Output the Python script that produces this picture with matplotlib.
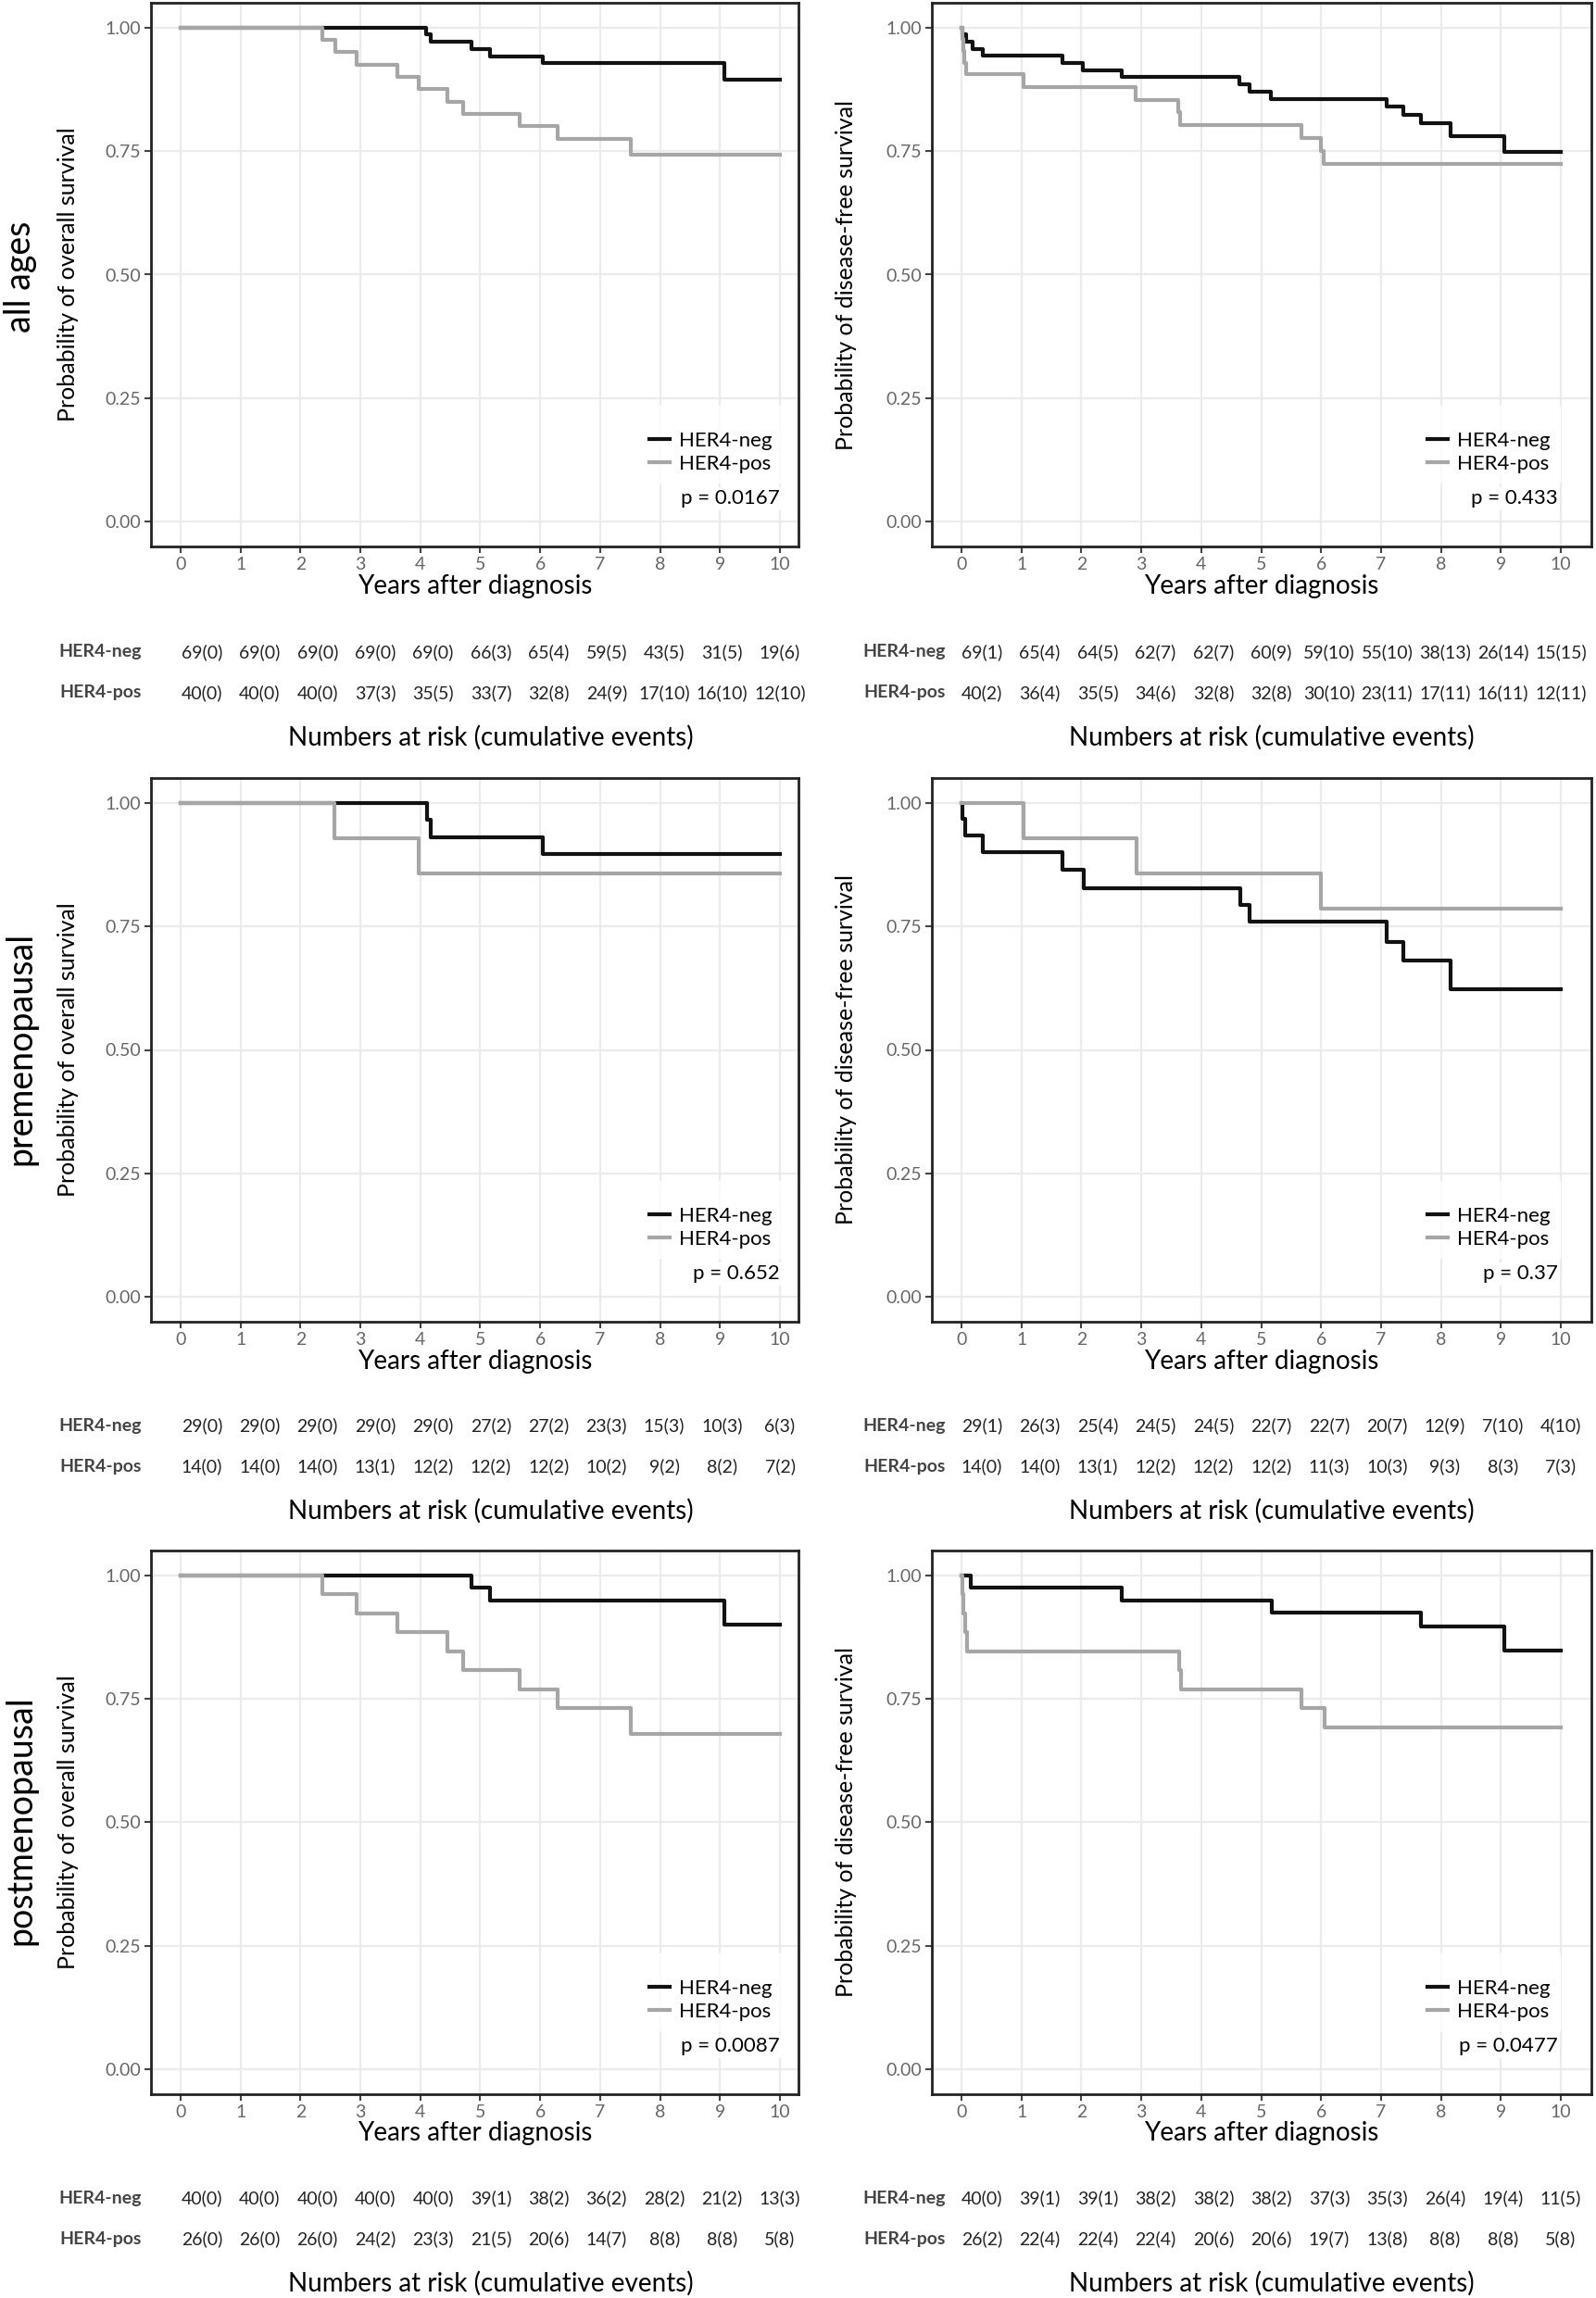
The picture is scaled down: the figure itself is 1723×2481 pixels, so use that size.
import matplotlib
matplotlib.use("Agg")
import matplotlib.pyplot as plt

plt.rcParams['font.family'] = ['Lato', 'DejaVu Sans']

# ---- survival curves (time in years, survival probability) ----
os_all_neg_t = [0, 4.10, 4.18, 4.85, 5.17, 6.04, 9.08, 10]
os_all_neg_s = [1, 0.986, 0.971, 0.957, 0.942, 0.928, 0.895, 0.895]
os_all_pos_t = [0, 2.37, 2.58, 2.93, 3.62, 3.98, 4.45, 4.71, 5.65, 6.29, 7.51, 10]
os_all_pos_s = [1, 0.975, 0.95, 0.925, 0.90, 0.875, 0.85, 0.825, 0.80, 0.775, 0.743, 0.743]

dfs_all_neg_t = [0, 0.01, 0.07, 0.18, 0.35, 1.69, 2.03, 2.68, 4.63, 4.80, 5.16, 7.09, 7.37, 7.66, 8.16, 9.05, 10]
dfs_all_neg_s = [1, 0.986, 0.971, 0.957, 0.943, 0.929, 0.914, 0.90, 0.886, 0.871, 0.856, 0.84, 0.823, 0.806, 0.781, 0.749, 0.749]
dfs_all_pos_t = [0, 0.01, 0.03, 0.05, 0.08, 1.04, 2.91, 3.62, 3.65, 5.67, 5.99, 6.04, 10]
dfs_all_pos_s = [1, 0.976, 0.952, 0.929, 0.905, 0.879, 0.853, 0.828, 0.802, 0.776, 0.75, 0.724, 0.724]

os_pre_neg_t = [0, 4.11, 4.18, 6.04, 10]
os_pre_neg_s = [1, 0.966, 0.931, 0.897, 0.897]
os_pre_pos_t = [0, 2.57, 3.98, 10]
os_pre_pos_s = [1, 0.929, 0.857, 0.857]

dfs_pre_neg_t = [0, 0.01, 0.06, 0.36, 1.69, 2.04, 4.65, 4.80, 7.09, 7.38, 8.16, 10]
dfs_pre_neg_s = [1, 0.967, 0.933, 0.90, 0.864, 0.827, 0.794, 0.759, 0.719, 0.68, 0.622, 0.622]
dfs_pre_pos_t = [0, 1.04, 2.92, 5.99, 10]
dfs_pre_pos_s = [1, 0.929, 0.857, 0.786, 0.786]

os_post_neg_t = [0, 4.85, 5.17, 9.08, 10]
os_post_neg_s = [1, 0.975, 0.949, 0.90, 0.90]
os_post_pos_t = [0, 2.37, 2.93, 3.62, 4.45, 4.71, 5.65, 6.29, 7.51, 10]
os_post_pos_s = [1, 0.962, 0.923, 0.885, 0.846, 0.808, 0.769, 0.731, 0.679, 0.679]

dfs_post_neg_t = [0, 0.16, 2.68, 5.18, 7.67, 9.05, 10]
dfs_post_neg_s = [1, 0.975, 0.949, 0.924, 0.897, 0.847, 0.847]
dfs_post_pos_t = [0, 0.01, 0.03, 0.06, 0.09, 3.63, 3.66, 5.67, 6.06, 10]
dfs_post_pos_s = [1, 0.962, 0.923, 0.885, 0.846, 0.808, 0.769, 0.731, 0.692, 0.692]

# ---- numbers at risk (cumulative events) at years 0..10 ----
risk_os_all_neg = ["69(0)", "69(0)", "69(0)", "69(0)", "69(0)", "66(3)", "65(4)", "59(5)", "43(5)", "31(5)", "19(6)"]
risk_os_all_pos = ["40(0)", "40(0)", "40(0)", "37(3)", "35(5)", "33(7)", "32(8)", "24(9)", "17(10)", "16(10)", "12(10)"]
risk_dfs_all_neg = ["69(1)", "65(4)", "64(5)", "62(7)", "62(7)", "60(9)", "59(10)", "55(10)", "38(13)", "26(14)", "15(15)"]
risk_dfs_all_pos = ["40(2)", "36(4)", "35(5)", "34(6)", "32(8)", "32(8)", "30(10)", "23(11)", "17(11)", "16(11)", "12(11)"]
risk_os_pre_neg = ["29(0)", "29(0)", "29(0)", "29(0)", "29(0)", "27(2)", "27(2)", "23(3)", "15(3)", "10(3)", "6(3)"]
risk_os_pre_pos = ["14(0)", "14(0)", "14(0)", "13(1)", "12(2)", "12(2)", "12(2)", "10(2)", "9(2)", "8(2)", "7(2)"]
risk_dfs_pre_neg = ["29(1)", "26(3)", "25(4)", "24(5)", "24(5)", "22(7)", "22(7)", "20(7)", "12(9)", "7(10)", "4(10)"]
risk_dfs_pre_pos = ["14(0)", "14(0)", "13(1)", "12(2)", "12(2)", "12(2)", "11(3)", "10(3)", "9(3)", "8(3)", "7(3)"]
risk_os_post_neg = ["40(0)", "40(0)", "40(0)", "40(0)", "40(0)", "39(1)", "38(2)", "36(2)", "28(2)", "21(2)", "13(3)"]
risk_os_post_pos = ["26(0)", "26(0)", "26(0)", "24(2)", "23(3)", "21(5)", "20(6)", "14(7)", "8(8)", "8(8)", "5(8)"]
risk_dfs_post_neg = ["40(0)", "39(1)", "39(1)", "38(2)", "38(2)", "38(2)", "37(3)", "35(3)", "26(4)", "19(4)", "11(5)"]
risk_dfs_post_pos = ["26(2)", "22(4)", "22(4)", "22(4)", "20(6)", "20(6)", "19(7)", "13(8)", "8(8)", "8(8)", "5(8)"]

years = list(range(11))
row_names = ["all ages", "premenopausal", "postmenopausal"]
p_values = [["p = 0.0167", "p = 0.433"], ["p = 0.652", "p = 0.37"], ["p = 0.0087", "p = 0.0477"]]
ylabels = ["Probability of overall survival", "Probability of disease-free survival"]

curves = [
    [(os_all_neg_t, os_all_neg_s, os_all_pos_t, os_all_pos_s),
     (dfs_all_neg_t, dfs_all_neg_s, dfs_all_pos_t, dfs_all_pos_s)],
    [(os_pre_neg_t, os_pre_neg_s, os_pre_pos_t, os_pre_pos_s),
     (dfs_pre_neg_t, dfs_pre_neg_s, dfs_pre_pos_t, dfs_pre_pos_s)],
    [(os_post_neg_t, os_post_neg_s, os_post_pos_t, os_post_pos_s),
     (dfs_post_neg_t, dfs_post_neg_s, dfs_post_pos_t, dfs_post_pos_s)],
]
risks = [
    [(risk_os_all_neg, risk_os_all_pos), (risk_dfs_all_neg, risk_dfs_all_pos)],
    [(risk_os_pre_neg, risk_os_pre_pos), (risk_dfs_pre_neg, risk_dfs_pre_pos)],
    [(risk_os_post_neg, risk_os_post_pos), (risk_dfs_post_neg, risk_dfs_post_pos)],
]

# ---- layout (pixel positions on the 1723 x 2481 canvas) ----
W, H = 1723, 2481
col_x = [(163, 862), (1006, 1718)]
col_xlim = [(-0.495, 10.31), (-0.495, 10.51)]
tab_xlim = [(-0.88, 10.32), (-0.864, 10.53)]
lab_x = [-1.05, -0.63]
row_y = [(3, 590), (840, 1427), (1674, 2261)]
tab_y = [704, 1539, 2373]
rowname_y = [299, 1132, 1965]

BLACK = "#111111"
GREY = "#a6a6a6"

fig = plt.figure(figsize=(W / 100, H / 100), dpi=100)

for r in range(3):
    for c in range(2):
        x0, x1 = col_x[c]
        y0, y1 = row_y[r]
        ax = fig.add_axes([x0 / W, 1 - y1 / H, (x1 - x0) / W, (y1 - y0) / H])
        nt, ns, pt, ps = curves[r][c]
        l1, = ax.step(nt, ns, where='post', color=BLACK, lw=3, label="HER4-neg", zorder=3)
        l2, = ax.step(pt, ps, where='post', color=GREY, lw=3, label="HER4-pos", zorder=3)
        ax.set_xlim(*col_xlim[c])
        ax.set_ylim(-0.05, 1.05)
        ax.set_xticks(years)
        ax.set_yticks([0, 0.25, 0.5, 0.75, 1.0])
        ax.set_yticklabels(["0.00", "0.25", "0.50", "0.75", "1.00"])
        ax.grid(True, color="#ebebeb", lw=1.6, zorder=0)
        ax.set_axisbelow(True)
        for s in ax.spines.values():
            s.set_color("#222222")
            s.set_linewidth(2)
        ax.tick_params(colors="#444444", labelcolor="#666666", labelsize=14, length=5, width=1.5, pad=3)
        ax.set_xlabel("Years after diagnosis", fontsize=20, labelpad=1)
        ax.set_ylabel(ylabels[c], fontsize=18)
        ax.yaxis.set_label_coords(-0.112 if c == 0 else -0.114, 0.5)
        leg = ax.legend(handles=[l1, l2], title=" ", loc='lower right',
                        bbox_to_anchor=(10.2 if c == 0 else 10.15, 0.058), bbox_transform=ax.transData,
                        fontsize=16, title_fontsize=10, handlelength=1.0, handletextpad=0.45,
                        labelspacing=0.25, frameon=True, fancybox=False, borderpad=0.45)
        leg.get_frame().set_facecolor("white")
        leg.get_frame().set_edgecolor("white")
        leg.set_zorder(4)
        for h in leg.legend_handles:
            h.set_linewidth(3)
        ax.text(10.0 if c == 0 else 9.95, 0.047, p_values[r][c], ha='right', va='center',
                fontsize=16, zorder=5,
                bbox=dict(facecolor='white', edgecolor='none', pad=2))

        # numbers-at-risk table
        ty = tab_y[r]
        tax = fig.add_axes([x0 / W, 1 - (ty + 44 + 22) / H, (x1 - x0) / W, 88 / H])
        tax.set_xlim(*tab_xlim[c])
        tax.set_ylim(-0.5, 1.5)
        tax.axis('off')
        neg_risk, pos_risk = risks[r][c]
        for x, v in zip(years, neg_risk):
            tax.text(x, 1, v, ha='center', va='center', fontsize=14, color="#222222")
        for x, v in zip(years, pos_risk):
            tax.text(x, 0, v, ha='center', va='center', fontsize=14, color="#222222")
        tax.text(lab_x[c], 1, "HER4-neg", ha='right', va='center', fontsize=14,
                 fontweight='bold', color="#444444", clip_on=False)
        tax.text(lab_x[c], 0, "HER4-pos", ha='right', va='center', fontsize=14,
                 fontweight='bold', color="#444444", clip_on=False)
        tax.text(5, -1.09, "Numbers at risk (cumulative events)", ha='center', va='center',
                 fontsize=20, clip_on=False)

    fig.text(22 / W, 1 - rowname_y[r] / H, row_names[r], rotation=90, ha='center', va='center',
             fontsize=27)

fig.savefig("out.png", dpi=100, facecolor="white")
